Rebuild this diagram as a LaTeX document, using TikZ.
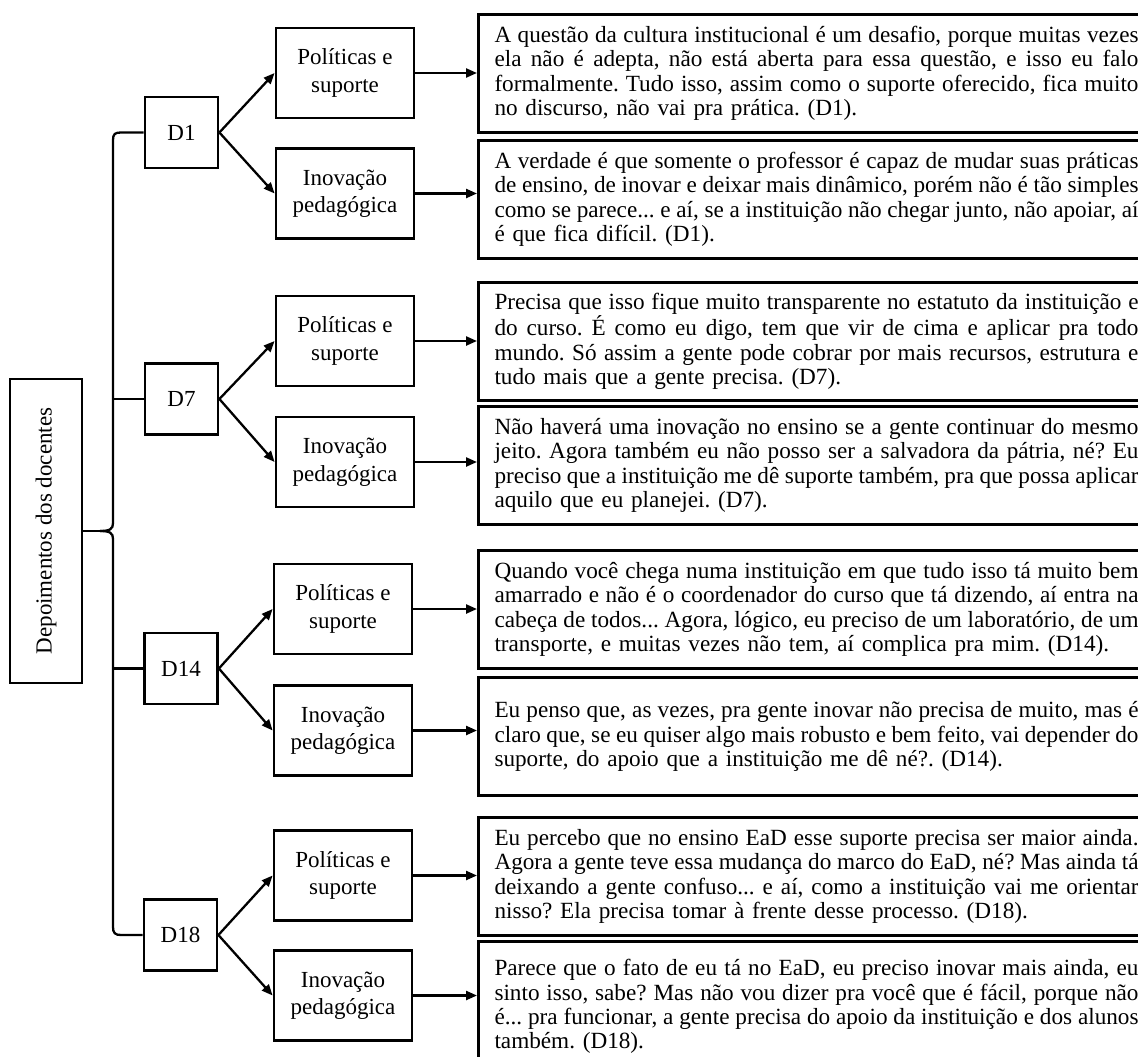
\documentclass[tikz,border=0pt]{standalone}
\usepackage{fontspec}
\setmainfont{Liberation Serif}
\usetikzlibrary{arrows.meta}

% one justified line (spaces share the slack evenly) and one closing line of a quotation
\newcommand\jline[1]{\hbox to 644pt{\spaceskip=\fontdimen2\font plus 1fil minus \fontdimen4\font\relax #1}}
\newcommand\eline[1]{\hbox to 644pt{#1\hfil}}

\begin{document}
\begin{tikzpicture}[x=1pt,y=-1pt,
  frame/.style={draw,line width=2.8pt,inner sep=0pt},
  txt/.style={font=\fontsize{23}{25}\selectfont},
  catbox/.style={frame,minimum width=138pt,minimum height=90pt,align=center,
    font=\fontsize{23}{27.5}\selectfont},
  dbox/.style={frame,txt,minimum width=73pt,minimum height=71pt},
  quote/.style={draw,line width=3pt,anchor=north west,text width=660pt,
    inner xsep=16pt,inner ysep=0pt,minimum height=118pt,
    font=\fontsize{23.2}{24.4}\selectfont\frenchspacing},
  wire/.style={line width=2.3pt},
  link/.style={line width=2.3pt,-{Triangle[length=11pt,width=9pt]}},
]
\useasboundingbox (0,0) rectangle (1138,1057);

% root box, text reading upwards (its south side faces right)
\node[frame,txt,rotate=90,minimum width=304pt,minimum height=72pt] (root) at (46,531)
  {Depoimentos dos docentes};

% teachers
\node[dbox] (D1)  at (181.5,132.5) {D1};
\node[dbox] (D7)  at (181.5,399)   {D7};
\node[dbox] (D14) at (181,668.5)   {D14};
\node[dbox] (D18) at (180.5,935)   {D18};

% categories
\node[catbox] (P1)  at (345,73)    {Políticas e\\suporte};
\node[catbox] (I1)  at (345,193.5) {Inovação\\pedagógica};
\node[catbox] (P7)  at (345,341)   {Políticas e\\suporte};
\node[catbox] (I7)  at (345,462)   {Inovação\\pedagógica};
\node[catbox] (P14) at (343,609)   {Políticas e\\suporte};
\node[catbox] (I14) at (343,730.5) {Inovação\\pedagógica};
\node[catbox] (P18) at (343,875.5) {Políticas e\\suporte};
\node[catbox] (I18) at (343,995.5) {Inovação\\pedagógica};

% quotations
\node[quote] (q1) at (477,13) {%
\jline{A questão da cultura institucional é um desafio, porque muitas vezes}
\jline{ela não é adepta, não está aberta para essa questão, e isso eu falo}
\jline{formalmente. Tudo isso, assim como o suporte oferecido, fica muito}
\eline{no discurso, não vai pra prática. (D1).}};
\node[quote] (q2) at (477,139) {%
\jline{A verdade é que somente o professor é capaz de mudar suas práticas}
\jline{de ensino, de inovar e deixar mais dinâmico, porém não é tão simples}
\jline{como se parece... e aí, se a instituição não chegar junto, não apoiar, aí}
\eline{é que fica difícil. (D1).}};
\node[quote] (q3) at (477,281) {%
\jline{Precisa que isso fique muito transparente no estatuto da instituição e}
\jline{do curso. É como eu digo, tem que vir de cima e aplicar pra todo}
\jline{mundo. Só assim a gente pode cobrar por mais recursos, estrutura e}
\eline{tudo mais que a gente precisa. (D7).}};
\node[quote] (q4) at (477,405) {%
\jline{Não haverá uma inovação no ensino se a gente continuar do mesmo}
\jline{jeito. Agora também eu não posso ser a salvadora da pátria, né? Eu}
\jline{preciso que a instituição me dê suporte também, pra que possa aplicar}
\eline{aquilo que eu planejei. (D7).}};
\node[quote] (q5) at (477,549) {%
\jline{Quando você chega numa instituição em que tudo isso tá muito bem}
\jline{amarrado e não é o coordenador do curso que tá dizendo, aí entra na}
\jline{cabeça de todos... Agora, lógico, eu preciso de um laboratório, de um}
\eline{transporte, e muitas vezes não tem, aí complica pra mim. (D14).}};
\node[quote] (q6) at (477,676) {%
\jline{Eu penso que, as vezes, pra gente inovar não precisa de muito, mas é}
\jline{claro que, se eu quiser algo mais robusto e bem feito, vai depender do}
\eline{suporte, do apoio que a instituição me dê né?. (D14).}};
\node[quote] (q7) at (477,816) {%
\jline{Eu percebo que no ensino EaD esse suporte precisa ser maior ainda.}
\jline{Agora a gente teve essa mudança do marco do EaD, né? Mas ainda tá}
\jline{deixando a gente confuso... e aí, como a instituição vai me orientar}
\eline{nisso? Ela precisa tomar à frente desse processo. (D18).}};
\node[quote,minimum height=130pt] (q8) at (477,940) {%
\jline{Parece que o fato de eu tá no EaD, eu preciso inovar mais ainda, eu}
\jline{sinto isso, sabe? Mas não vou dizer pra você que é fácil, porque não}
\jline{é... pra funcionar, a gente precisa do apoio da instituição e dos alunos}
\eline{também. (D18).}};

% curly bracket joining the teachers to the root box
\coordinate (spine) at (113,0);
\coordinate (tip) at (100,531);
\draw[wire] (D1.west) -- (121,132.5) .. controls (115,132.5) and (113,134) .. (113,140)
  -- (113,523) .. controls (113,529) and (110,531) .. (tip);
\draw[wire] (tip) .. controls (110,531) and (113,533) .. (113,539)
  -- (113,927) .. controls (113,933) and (115,935) .. (121,935) -- (D18.west);
\draw[wire] (root.south) -- (tip);
\draw[wire] (D7.west -| spine) -- (D7.west);
\draw[wire] (D14.west -| spine) -- (D14.west);

% teacher -> category -> quotation
\foreach \d/\qa/\qb in {1/q1/q2,7/q3/q4,14/q5/q6,18/q7/q8}{
  \draw[link] (D\d.east) -- (P\d.west);
  \draw[link] (D\d.east) -- (I\d.west);
  \draw[link] (P\d.east) -- (P\d.east -| \qa.west);
  \draw[link] (I\d.east) -- (I\d.east -| \qb.west);
}
\end{tikzpicture}
\end{document}
